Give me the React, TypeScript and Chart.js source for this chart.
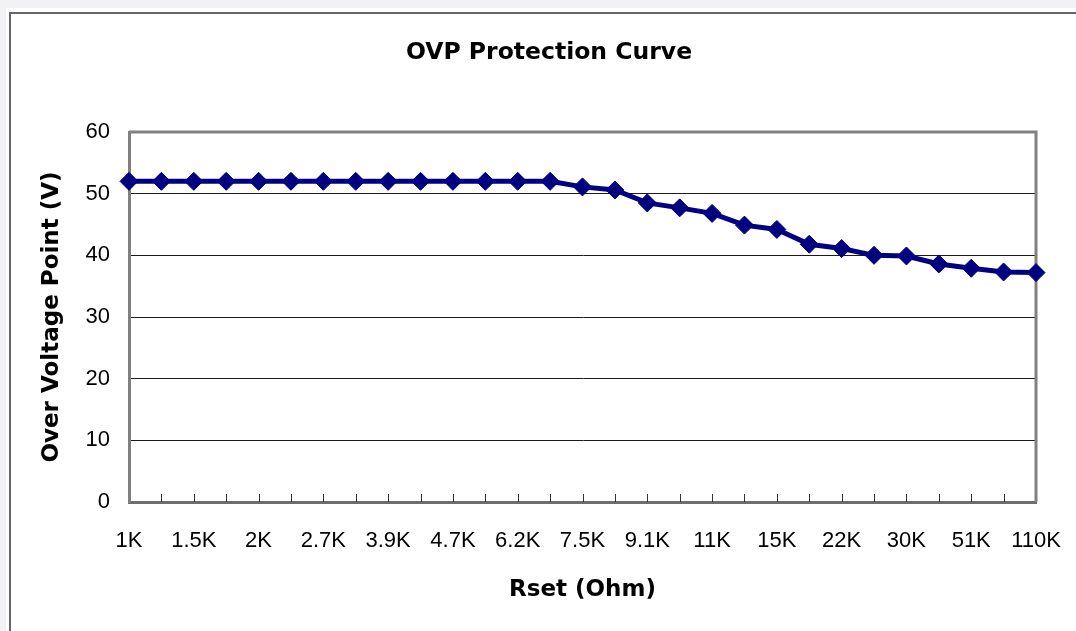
import React, { useEffect, useRef } from 'react';
import { Chart, registerables } from 'chart.js';

Chart.register(...registerables);

// Rset values (Ohm) – one category per measured point
const rsetLabels = [
  '1K', '1.2K', '1.5K', '1.8K', '2K', '2.2K', '2.7K', '3.3K', '3.9K', '4.3K',
  '4.7K', '5.6K', '6.2K', '6.8K', '7.5K', '8.2K', '9.1K', '10K', '11K', '13K',
  '15K', '18K', '22K', '27K', '30K', '39K', '51K', '75K', '110K',
];

// Over voltage point (V)
const ovpValues = [
  52, 52, 52, 52, 52, 52, 52, 52, 52, 52,
  52, 52, 52, 52, 51.1, 50.6, 48.5, 47.7, 46.8, 44.9,
  44.2, 41.8, 41.1, 40.0, 39.9, 38.6, 37.9, 37.3, 37.2,
];

const chartTitle = 'OVP Protection Curve';
const xTitle = 'Rset (Ohm)';
const yTitle = 'Over Voltage Point (V)';
const yMin = 0;
const yMax = 60;
const yStep = 10;

const tickFont = { family: "'Liberation Sans', Arial, sans-serif", size: 22 };
const titleFont = { family: "'DejaVu Sans', sans-serif", size: 23, weight: 'bold' as const };

export default function App() {
  const ref = useRef<HTMLCanvasElement | null>(null);

  useEffect(() => {
    if (!ref.current) return;

    const framePlugin = {
      id: 'framePlugin',
      beforeDatasetsDraw(chart: any) {
        const { ctx, chartArea } = chart;
        const xs = chart.scales.x;
        ctx.save();
        // inner tick marks on the category axis
        ctx.strokeStyle = '#333333';
        ctx.lineWidth = 1;
        for (let i = 1; i < rsetLabels.length; i++) {
          const px = Math.round(xs.getPixelForValue(i)) + 0.5;
          ctx.beginPath();
          ctx.moveTo(px, chartArea.bottom);
          ctx.lineTo(px, chartArea.bottom - 8);
          ctx.stroke();
        }
        // top and right plot border
        ctx.strokeStyle = '#808080';
        ctx.lineWidth = 3;
        ctx.beginPath();
        ctx.moveTo(chartArea.left, chartArea.top);
        ctx.lineTo(chartArea.right, chartArea.top);
        ctx.lineTo(chartArea.right, chartArea.bottom);
        ctx.stroke();
        ctx.restore();
      },
    };

    const chart = new Chart(ref.current, {
      type: 'line',
      data: {
        labels: rsetLabels,
        datasets: [
          {
            label: 'OVP',
            data: ovpValues,
            borderColor: '#000080',
            backgroundColor: '#000080',
            borderWidth: 5,
            pointStyle: 'rectRot',
            pointRadius: 9,
            pointBorderWidth: 1,
            pointBackgroundColor: '#000080',
            pointBorderColor: '#000080',
            tension: 0,
            clip: false as any,
            yAxisID: 'y',
          },
        ],
      },
      options: {
        animation: false,
        responsive: false,
        devicePixelRatio: 1,
        layout: { padding: 0 },
        plugins: {
          legend: { display: false },
          tooltip: { enabled: false },
          title: {
            display: true,
            text: chartTitle,
            color: '#000',
            font: { family: "'DejaVu Sans', sans-serif", size: 23.5, weight: 'bold' },
            padding: { top: 24.9, bottom: 64.9 },
          },
        },
        scales: {
          x: {
            type: 'category',
            offset: false,
            grid: { display: false },
            border: { color: '#6e6e6e', width: 3 },
            ticks: {
              autoSkip: false,
              maxRotation: 0,
              minRotation: 0,
              padding: 18,
              color: '#000',
              font: tickFont,
              callback: (_v: any, i: number) => (i % 2 === 0 ? rsetLabels[i] : ''),
            },
            title: {
              display: true,
              text: xTitle,
              color: '#000',
              font: titleFont,
              padding: { top: 0, bottom: 27 },
            },
            afterFit: (s: any) => {
              s.height = 129;
            },
          },
          y: {
            position: 'left',
            min: yMin,
            max: yMax,
            grid: { color: '#1a1a1a', lineWidth: 1, drawTicks: false },
            border: { color: '#808080', width: 3 },
            ticks: { stepSize: yStep, padding: 19, color: '#000', font: tickFont },
            title: {
              display: true,
              text: yTitle,
              color: '#000',
              font: titleFont,
              padding: { top: 27, bottom: 0 },
            },
            afterFit: (s: any) => {
              s.width = 118;
            },
          },
          // empty right-hand margin so the title stays centred on the whole chart
          yMargin: {
            position: 'right',
            display: true,
            grid: { display: false, drawTicks: false },
            border: { display: false },
            ticks: { display: false },
            afterFit: (s: any) => {
              s.width = 51;
            },
          },
        },
      },
      plugins: [framePlugin],
    } as any);

    return () => chart.destroy();
  }, []);

  return (
    <div
      style={{
        position: 'fixed',
        left: 0,
        top: 0,
        width: 1076,
        height: 631,
        background: '#f2f2f4',
        overflow: 'hidden',
      }}
    >
      <div style={{ position: 'absolute', left: 6, top: 8, width: 1200, height: 700, background: '#fff' }} />
      <div
        style={{
          position: 'absolute',
          left: 9,
          top: 12,
          width: 1200,
          height: 700,
          borderLeft: '2px solid #666',
          borderTop: '2px solid #666',
          background: '#fff',
        }}
      />
      <canvas
        ref={ref}
        width={1076}
        height={617}
        style={{ position: 'absolute', left: 11, top: 14, width: 1076, height: 617 }}
      />
    </div>
  );
}
